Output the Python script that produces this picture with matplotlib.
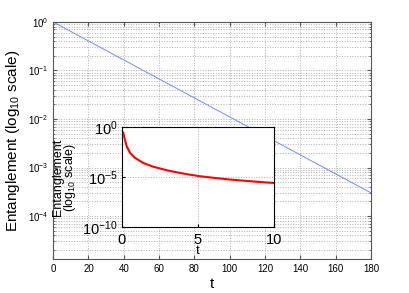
import matplotlib
matplotlib.use('Agg')
import matplotlib.pyplot as plt

plt.rcParams['font.family'] = ['Liberation Sans', 'DejaVu Sans']
plt.rcParams['mathtext.fontset'] = 'custom'
plt.rcParams['mathtext.rm'] = 'Liberation Sans'
plt.rcParams['mathtext.it'] = 'Liberation Sans:italic'

# main curve: entanglement vs t (straight on log scale)
t_main = [0, 180]
ent_main = [1.0, 3.0e-4]

# inset curve (log10 of entanglement)
t_inset = [0.09, 0.2, 0.32, 0.54, 0.87, 1.4, 2.0, 3.0, 4.0, 5.0, 6.0, 7.0, 8.0, 9.0, 10.0]
log_ent_inset = [-0.57, -1.3, -1.95, -2.6, -3.1, -3.6, -3.95, -4.35, -4.65, -4.9,
                 -5.08, -5.24, -5.37, -5.49, -5.6]
ent_inset = [10 ** v for v in log_ent_inset]

fig = plt.figure(figsize=(4.09, 2.93), dpi=100)
ax = fig.add_axes([0.130, 0.116, 0.777, 0.809])

ax.semilogy(t_main, ent_main, color='#6f8dff', lw=0.7)
ax.set_xlim(0, 180)
ax.set_ylim(1.3e-5, 1)
ax.set_xticks(range(0, 181, 20))
ax.set_yticks([1, 1e-1, 1e-2, 1e-3, 1e-4])
ax.grid(True, which='major', ls=':', color='#b0b0b0', lw=0.7)
ax.grid(True, which='minor', axis='y', ls=':', color='#b0b0b0', lw=0.7)
ax.tick_params(which='both', direction='in', top=True, right=True,
               labelsize=7, color='#555555', length=3)
ax.tick_params(which='minor', length=1.5)
for s in ax.spines.values():
    s.set_color('#555555')
ax.set_xlabel('t', fontsize=11, labelpad=2)
ax.set_ylabel('Entanglement (log$_{10}$ scale)', fontsize=11, labelpad=4)

# inset
ins = fig.add_axes([0.298, 0.225, 0.372, 0.342])
ins.semilogy(t_inset, ent_inset, color='red', lw=1.5)
ins.set_xlim(0, 10)
ins.set_ylim(1e-10, 1)
ins.set_xticks([0, 5, 10])
ins.set_yticks([1, 1e-5, 1e-10])
ins.minorticks_off()
ins.grid(True, which='major', ls=':', color='#b0b0b0', lw=0.7)
ins.tick_params(which='both', direction='in', labelsize=10.5, length=2)
ins.tick_params(axis='y', pad=3)
ins.tick_params(axis='x', pad=4)
ins.set_xlabel('t', fontsize=9.5, labelpad=-1)
ins.set_ylabel('Entanglement\n(log$_{10}$ scale)', fontsize=9, labelpad=3,
               linespacing=0.85)

fig.savefig('out.png', dpi=100)
